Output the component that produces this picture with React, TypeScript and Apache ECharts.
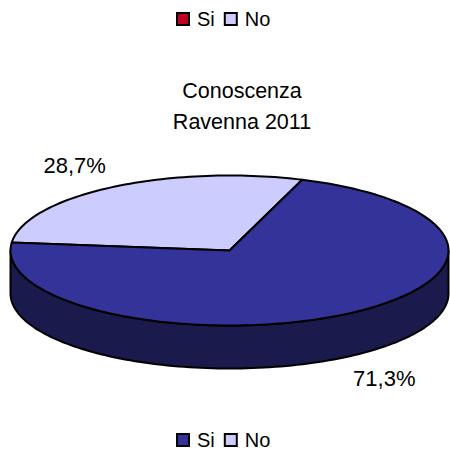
import React, { useEffect, useRef } from "react";
import * as echarts from "echarts";

const sliceNames = ["No", "Si"];
const sliceValues = [28.7, 71.3];
const sliceColors = ["#CCCCFF", "#333399"];
const sideColors = ["#66667F", "#1A1A4D"];
const topLegendColors = ["#C00020", "#CCCCFF"];
const bottomLegendColors = ["#333399", "#CCCCFF"];
const legendOrder = ["Si", "No"];
const titleLines = ["Conoscenza", "Ravenna 2011"];

const CX = 229.5, CY = 250.5, RX = 219, RY = 75, DEPTH = 43;
const START_DEG = 70.6;
const total = sliceValues.reduce((a, b) => a + b, 0);

const pt = (deg: number, dy = 0, rx = RX, ry = RY): [number, number] => {
  const r = (deg * Math.PI) / 180;
  return [CX + rx * Math.cos(r), CY - ry * Math.sin(r) + dy];
};
const arcPts = (a: number, b: number, dy = 0) => {
  const n = Math.max(2, Math.ceil(Math.abs(b - a) / 1.5));
  const out: [number, number][] = [];
  for (let i = 0; i <= n; i++) out.push(pt(a + ((b - a) * i) / n, dy));
  return out;
};

const makeSeries = (idx: number) => {
  const before = sliceValues.slice(0, idx).reduce((a, b) => a + b, 0);
  return {
    type: "custom",
    name: sliceNames[idx],
    coordinateSystem: "none",
    silent: true,
    itemStyle: { color: sliceColors[idx] },
    data: [[sliceValues[idx]]],
    renderItem: (_p: any, api: any) => {
      const v = api.value(0) as number;
      const a0 = START_DEG + (before / total) * 360;
      const a1 = a0 + (v / total) * 360;
      const children: any[] = [];
      const lo = Math.max(a0, 180), hi = Math.min(a1, 360);
      const stroke = { stroke: "#000", lineWidth: 2, lineJoin: "round" };
      if (hi > lo) {
        children.push({
          type: "polygon",
          shape: { points: [...arcPts(lo, hi), ...arcPts(hi, lo, DEPTH)] },
          style: { fill: sideColors[idx], ...stroke },
        });
      }
      children.push({
        type: "polygon",
        shape: { points: [[CX, CY], ...arcPts(a0, a1)] },
        style: { fill: sliceColors[idx], ...stroke },
      });
      const mid = (a0 + a1) / 2;
      const lower = Math.sin((mid * Math.PI) / 180) < 0;
      const [lx, ly] = pt(mid, lower ? DEPTH : 0, 290, 101);
      children.push({
        type: "text",
        x: lx,
        y: ly,
        style: {
          text: v.toFixed(1).replace(".", ",") + "%",
          fill: "#000",
          font: "22px 'Liberation Sans', Arial, sans-serif",
          textAlign: "center",
          textVerticalAlign: "middle",
        },
      });
      return { type: "group", children };
    },
  };
};

const makeLegend = (top: number, colors: string[]) => ({
  left: 176,
  top,
  orient: "horizontal",
  padding: 0,
  itemWidth: 12,
  itemHeight: 12,
  itemGap: 9,
  selectedMode: false,
  icon: "rect",
  textStyle: {
    color: "#000",
    fontFamily: "'Liberation Sans', Arial, sans-serif",
    fontSize: 20,
    padding: [0, 0, 0, 3],
  },
  data: legendOrder.map((name, i) => ({
    name,
    itemStyle: { color: colors[i], borderColor: "#000", borderWidth: 2 },
  })),
});

export default function App() {
  const ref = useRef<HTMLDivElement>(null);
  useEffect(() => {
    const chart = echarts.init(ref.current!, undefined, { renderer: "svg" });
    chart.setOption({
      animation: false,
      backgroundColor: "#fff",
      title: {
        text: titleLines.join("\n"),
        left: 242,
        top: 75,
        textAlign: "center",
        padding: 0,
        textStyle: {
          color: "#000",
          fontWeight: "normal",
          fontFamily: "'Liberation Sans', Arial, sans-serif",
          fontSize: 21.5,
          lineHeight: 31,
        },
      },
      legend: [makeLegend(9, topLegendColors), makeLegend(430, bottomLegendColors)],
      series: [makeSeries(0), makeSeries(1)],
    });
    return () => chart.dispose();
  }, []);
  return <div ref={ref} style={{ width: 450, height: 451, position: "absolute", left: 0, top: 0 }} />;
}
